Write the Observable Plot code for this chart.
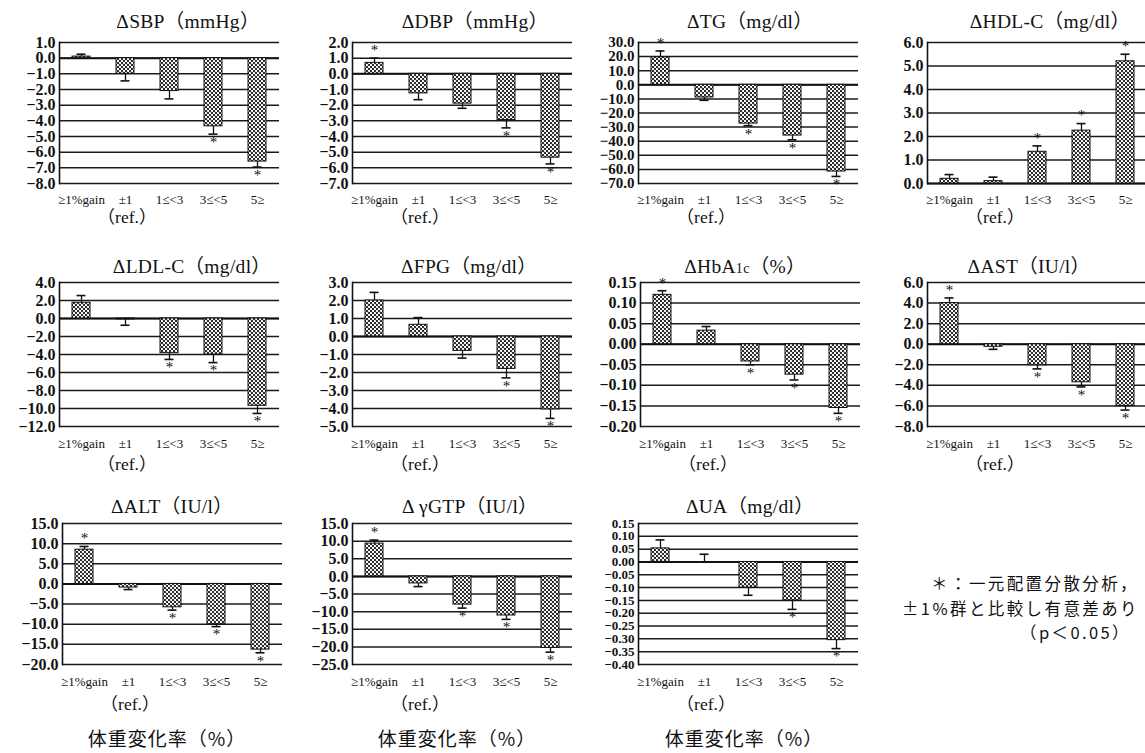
<!DOCTYPE html>
<html><head><meta charset="utf-8">
<script src="https://cdn.jsdelivr.net/npm/d3@7"></script>
<script src="https://cdn.jsdelivr.net/npm/@observablehq/plot@0.6"></script>
<style>
body{margin:0;background:#fff;}
#wrap{position:relative;width:1145px;height:753px;overflow:hidden;font-family:"Liberation Serif","Noto Sans CJK JP",serif;color:#111;}
.panel{position:absolute;}
.lbl{position:absolute;white-space:nowrap;transform:translate(-50%,-50%);line-height:1;}
.title{font-size:19.5px;letter-spacing:0.3px;}
.ref{font-size:17.5px;}
.xl{font-family:"Noto Sans CJK JP",sans-serif;font-size:19px;letter-spacing:1px;}
.leg{position:absolute;right:6px;top:571px;white-space:nowrap;font-family:"Noto Sans CJK JP",sans-serif;font-size:16.5px;letter-spacing:2.4px;line-height:24.5px;text-align:right;}
.leg span{display:block;}
</style></head>
<body>
<svg width="0" height="0" style="position:absolute">
  <defs>
    <pattern id="dots" width="4" height="4" patternUnits="userSpaceOnUse">
      <rect width="4" height="4" fill="#fff"/>
      <rect x="0" y="0" width="2" height="2" fill="#2a2a2a"/>
      <rect x="2" y="2" width="2" height="2" fill="#2a2a2a"/>
      <rect x="1.5" y="1.5" width="1" height="1" fill="#555"/>
    </pattern>
  </defs>
</svg>
<div id="wrap"></div>
<script>
// ---- data ----
const categories = ["≥1%gain", "±1", "1≤<3", "3≤<5", "5≥"];

const sbpMean = [0.1, -1.0, -2.1, -4.35, -6.6];
const sbpSE   = [0.15, 0.45, 0.5, 0.5, 0.35];
const sbpSig  = [0, 0, 0, 1, 1];
const sbpTicks = [1, 0, -1, -2, -3, -4, -5, -6, -7, -8];

const dbpMean = [0.7, -1.25, -1.9, -2.95, -5.35];
const dbpSE   = [0.3, 0.4, 0.3, 0.5, 0.4];
const dbpSig  = [1, 0, 0, 1, 1];
const dbpTicks = [2, 1, 0, -1, -2, -3, -4, -5, -6, -7];

const tgMean = [19.5, -9.0, -27.5, -36.0, -61.5];
const tgSE   = [4.5, 2.0, 1.5, 3.0, 3.5];
const tgSig  = [1, 0, 1, 1, 1];
const tgTicks = [30, 20, 10, 0, -10, -20, -30, -40, -50, -60, -70];

const hdlMean = [0.2, 0.1, 1.35, 2.25, 5.2];
const hdlSE   = [0.18, 0.17, 0.25, 0.3, 0.3];
const hdlSig  = [0, 0, 1, 1, 1];
const hdlTicks = [6, 5, 4, 3, 2, 1, 0];

const ldlMean = [1.75, -0.1, -3.85, -4.0, -9.7];
const ldlSE   = [0.8, 0.65, 0.7, 0.9, 0.85];
const ldlSig  = [0, 0, 1, 1, 1];
const ldlTicks = [4, 2, 0, -2, -4, -6, -8, -10, -12];

const fpgMean = [2.0, 0.65, -0.8, -1.8, -4.05];
const fpgSE   = [0.45, 0.4, 0.4, 0.5, 0.5];
const fpgSig  = [0, 0, 0, 1, 1];
const fpgTicks = [3, 2, 1, 0, -1, -2, -3, -4, -5];

const hba1cMean = [0.12, 0.033, -0.042, -0.074, -0.155];
const hba1cSE   = [0.01, 0.01, 0.008, 0.013, 0.013];
const hba1cSig  = [1, 0, 1, 1, 1];
const hba1cTicks = [0.15, 0.10, 0.05, 0, -0.05, -0.10, -0.15, -0.20];

const astMean = [4.0, -0.25, -2.05, -3.7, -6.0];
const astSE   = [0.5, 0.25, 0.35, 0.45, 0.4];
const astSig  = [1, 0, 1, 1, 1];
const astTicks = [6, 4, 2, 0, -2, -4, -6, -8];

const altMean = [8.5, -0.9, -5.8, -10.0, -16.3];
const altSE   = [0.8, 0.5, 0.7, 0.6, 0.8];
const altSig  = [1, 0, 1, 1, 1];
const altTicks = [15, 10, 5, 0, -5, -10, -15, -20];

const ggtpMean = [9.3, -2.0, -8.0, -11.1, -20.3];
const ggtpSE   = [1.0, 0.9, 1.0, 1.1, 1.2];
const ggtpSig  = [1, 0, 1, 1, 1];
const ggtpTicks = [15, 10, 5, 0, -5, -10, -15, -20, -25];

const uaMean = [0.053, 0.0, -0.1, -0.15, -0.305];
const uaSE   = [0.033, 0.03, 0.03, 0.035, 0.033];
const uaSig  = [0, 0, 0, 1, 1];
const uaTicks = [0.15, 0.10, 0.05, 0, -0.05, -0.10, -0.15, -0.20, -0.25, -0.30, -0.35, -0.40];

const titles = ["ΔSBP（mmHg）", "ΔDBP（mmHg）", "ΔTG（mg/dl）", "ΔHDL-C（mg/dl）",
  "ΔLDL-C（mg/dl）", "ΔFPG（mg/dl）", "ΔHbA<span style='font-size:0.72em'>1c</span>（%）", "ΔAST（IU/l）",
  "ΔALT（IU/l）", "Δ γGTP（IU/l）", "ΔUA（mg/dl）"];
const refLabel = "（ref.）";
const xLabel = "体重変化率（%）";
const legendLines = ["＊：一元配置分散分析，", "±1%群と比較し有意差あり", "（p＜0.05）"];

const panels = [
  {mean: sbpMean, se: sbpSE, sig: sbpSig, ticks: sbpTicks, fmt: ".1f"},
  {mean: dbpMean, se: dbpSE, sig: dbpSig, ticks: dbpTicks, fmt: ".1f"},
  {mean: tgMean, se: tgSE, sig: tgSig, ticks: tgTicks, fmt: ".1f", fs: 15},
  {mean: hdlMean, se: hdlSE, sig: hdlSig, ticks: hdlTicks, fmt: ".1f"},
  {mean: ldlMean, se: ldlSE, sig: ldlSig, ticks: ldlTicks, fmt: ".1f"},
  {mean: fpgMean, se: fpgSE, sig: fpgSig, ticks: fpgTicks, fmt: ".1f"},
  {mean: hba1cMean, se: hba1cSE, sig: hba1cSig, ticks: hba1cTicks, fmt: ".2f"},
  {mean: astMean, se: astSE, sig: astSig, ticks: astTicks, fmt: ".1f"},
  {mean: altMean, se: altSE, sig: altSig, ticks: altTicks, fmt: ".1f"},
  {mean: ggtpMean, se: ggtpSE, sig: ggtpSig, ticks: ggtpTicks, fmt: ".1f"},
  {mean: uaMean, se: uaSE, sig: uaSig, ticks: uaTicks, fmt: ".2f", fs: 13}
];

// ---- layout ----
const rows = [
  {y: 42, h: 141, pad: 11, ty: 22, ry: 218},
  {y: 282, h: 144, pad: 12, ty: 267, ry: 465},
  {y: 523, h: 141, pad: 12, ty: 507, ry: 705}
];
const frameX = [59, 352, 638, 927, 59, 352, 640, 927, 62, 352, 638];
const titleX = [188, 475, 750, 1050, 192, 469, 745, 1029, 172, 470, 750];
const xLabelX = [167, 457, 744];
const ML = 58, MT = 8, MB = 26, PW = 220, MR = 4;

const wrap = document.getElementById("wrap");

function addLabel(html, cls, x, y) {
  const d = document.createElement("div");
  d.className = "lbl " + cls;
  d.innerHTML = html;
  d.style.left = x + "px";
  d.style.top = y + "px";
  wrap.appendChild(d);
}

panels.forEach((p, i) => {
  const row = rows[Math.floor(i / 4)];
  const data = categories.map((c, k) => ({cat: c, v: p.mean[k], se: p.se[k], sig: p.sig[k]}));
  const end = d => d.v + (d.v < 0 ? -d.se : d.se);
  const fmt = d3.format(p.fmt);
  const svg = Plot.plot({
    width: ML + PW + MR, height: MT + row.h + MB,
    marginLeft: ML, marginRight: MR, marginTop: MT, marginBottom: MB,
    style: {fontFamily: "'Liberation Serif', serif", color: "#111", background: "transparent", overflow: "visible"},
    x: {domain: categories, paddingInner: 0.6, paddingOuter: 0.3, axis: null},
    y: {domain: [p.ticks[p.ticks.length - 1], p.ticks[0]], axis: null},
    marks: [
      Plot.ruleY(p.ticks, {stroke: "#1a1a1a", strokeWidth: 1.5}),
      Plot.ruleY([0], {stroke: "#111", strokeWidth: 2}),
      Plot.frame({anchor: "left", stroke: "#111", strokeWidth: 1.6}),
      // y tick labels
      Plot.text(p.ticks, {y: d => d, text: d => fmt(d), frameAnchor: "left", textAnchor: "end", dx: -4,
        fontSize: p.fs || 16, fontWeight: "bold", fill: "#111"}),
      Plot.axisX({tickSize: 0, tickPadding: row.pad, fontSize: 13, label: null}),
      Plot.barY(data, {x: "cat", y: "v", fill: "url(#dots)", stroke: "#111", strokeWidth: 1}),
      Plot.ruleX(data, {x: "cat", y1: "v", y2: end, stroke: "#111", strokeWidth: 1.3}),
      Plot.tickY(data, {x: "cat", y: end, insetLeft: 4.5, insetRight: 4.5, stroke: "#111", strokeWidth: 1.6}),
      Plot.text(data.filter(d => d.sig && d.v >= 0), {x: "cat", y: end, text: () => "*", dy: -8, fontSize: 15}),
      Plot.text(data.filter(d => d.sig && d.v < 0), {x: "cat", y: end, text: () => "*", dy: 8, fontSize: 15})
    ]
  });
  svg.classList.add("panel");
  svg.style.left = (frameX[i] - ML) + "px";
  svg.style.top = (row.y - MT) + "px";
  svg.style.position = "absolute";
  wrap.appendChild(svg);
  addLabel(titles[i], "title", titleX[i], row.ty);
  addLabel(refLabel, "ref", frameX[i] + 68, row.ry);
});

xLabelX.forEach(x => addLabel(xLabel, "xl", x, 737));

const leg = document.createElement("div");
leg.className = "leg";
legendLines.forEach((t, k) => {
  const s = document.createElement("span");
  s.textContent = t;
  if (k === 2) s.style.paddingRight = "8px";
  leg.appendChild(s);
});
wrap.appendChild(leg);
</script>
</body></html>
